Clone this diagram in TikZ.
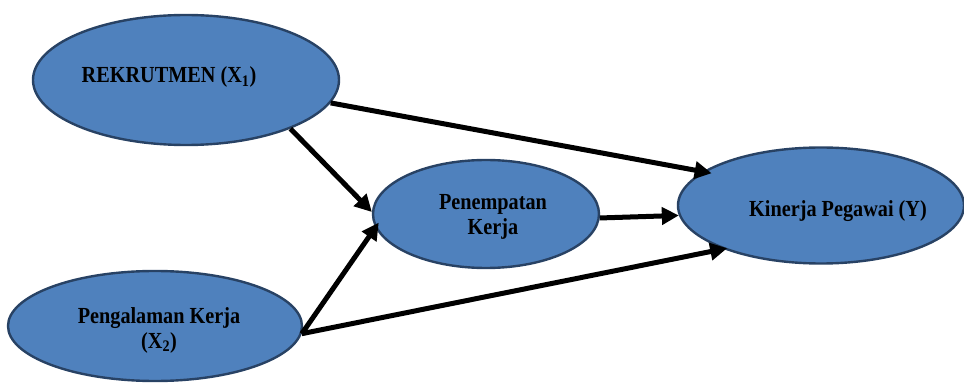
\documentclass[tikz,border=0pt]{standalone}
\usepackage{fontspec}
\setmainfont{Liberation Serif}
\newfontfamily\varfont[FakeStretch=0.88]{Liberation Serif}
\usepackage{tikz}
\usetikzlibrary{arrows.meta,shapes,positioning}
\usepackage{xcolor}
\definecolor{varfill}{RGB}{79,129,189}
\definecolor{varline}{RGB}{40,66,100}
\tikzstyle{varnode} = [ellipse, draw=varline, line width=2.4pt, fill=varfill, inner sep=0pt]
\tikzstyle{varlabel} = [font=\varfont\fontsize{23}{25}\selectfont\bfseries, align=center, text=black]
\tikzstyle{arrow} = [line width=5pt,-{Triangle[length=17pt,width=17pt]},color=black]

\begin{document}
\begin{tikzpicture}[x=1pt,y=1pt]
\useasboundingbox (0,0) rectangle (964,383);

% Variables
\node[varnode, minimum width=306pt, minimum height=130pt] (rek) at (186,303) {};
\node[varnode, minimum width=294pt, minimum height=110pt] (peng) at (155,57) {};
\node[varnode, minimum width=226pt, minimum height=108pt] (pen) at (486,169) {};
\node[varnode, minimum width=286pt, minimum height=116pt] (kin) at (821,177.5) {};

% Labels
\node[varlabel] (rekT) at ([shift={(-17,3)}]rek.center) {REKRUTMEN (X\textsubscript{1})};
\node[varlabel] (pengT) at ([shift={(4,-4)}]peng.center) {Pengalaman Kerja\\(X\textsubscript{2})};
\node[varlabel] (penT) at ([shift={(7,-3)}]pen.center) {Penempatan\\Kerja};
\node[varlabel] (kinT) at ([shift={(17,-6)}]kin.center) {Kinerja Pegawai (Y)};

% Paths
\draw[arrow, shorten >=-9pt] (rek.-9) -- (kin.164);
\draw[arrow] (rek.-25) -- (pen.179);
\draw[arrow, shorten >=-6pt] (peng.-3) -- (pen.187);
\draw[arrow, shorten >=-4pt] (peng.-3) -- (kin.204);
\draw[arrow] (pen.-2) -- (kin.184);
\end{tikzpicture}
\end{document}
